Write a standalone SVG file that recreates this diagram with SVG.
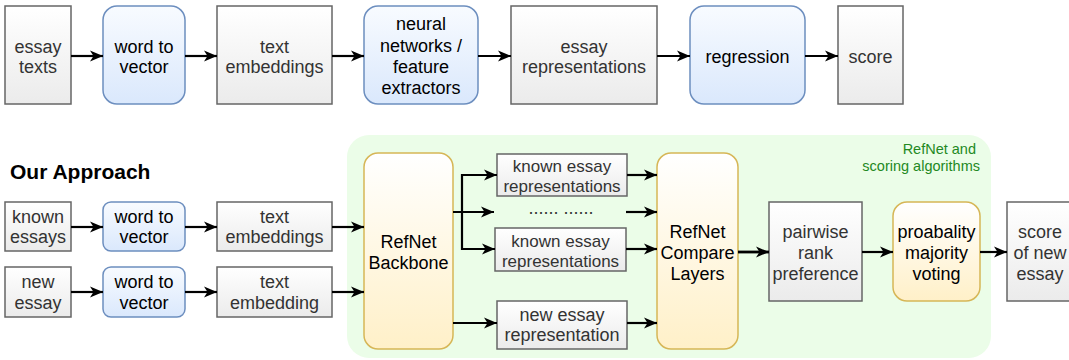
<svg xmlns="http://www.w3.org/2000/svg" width="1069" height="360" viewBox="0 0 1069 360">
<defs>
<linearGradient id="gGray" x1="0" y1="0" x2="0" y2="1"><stop offset="0" stop-color="#ffffff"/><stop offset="1" stop-color="#ebebeb"/></linearGradient>
<linearGradient id="gBlue" x1="0" y1="0" x2="0" y2="1"><stop offset="0" stop-color="#f8fbff"/><stop offset="1" stop-color="#dae8fc"/></linearGradient>
<linearGradient id="gOrange" x1="0" y1="0" x2="0" y2="1"><stop offset="0" stop-color="#ffffff"/><stop offset="1" stop-color="#fff0c8"/></linearGradient>
<marker id="arr" markerUnits="userSpaceOnUse" markerWidth="14" markerHeight="14" viewBox="0 0 14 14" refX="13" refY="7" orient="auto">
<path d="M0,1.5 L13,7 L0,12.5 L3.5,7 Z" fill="#000"/>
</marker>
</defs>
<style>
.gray{fill:url(#gGray);stroke:#666666;stroke-width:1.5}
.blue{fill:url(#gBlue);stroke:#6c8ebf;stroke-width:1.5}
.orange{fill:url(#gOrange);stroke:#d6b656;stroke-width:1.5}
text{font-family:"Liberation Sans",Arial,sans-serif;font-size:18px;text-anchor:middle}
.tg{fill:#333333}
.tb{fill:#000000}
.s16{font-size:17px}
.conn path{fill:none;stroke:#000;stroke-width:2.2;marker-end:url(#arr)}
</style>

<g id="container">
<rect x="347" y="135" width="644" height="223" rx="22" fill="#ebfde8"/>
<text x="976" y="154" style="font-size:14.5px;text-anchor:end;fill:#23891f">RefNet and</text>
<text x="980" y="171" style="font-size:14.5px;text-anchor:end;fill:#23891f">scoring algorithms</text>
</g>

<g id="title"><text x="10" y="179" style="font-size:21px;font-weight:bold;text-anchor:start;fill:#000">Our Approach</text></g>

<!-- Top row -->
<g id="essay-texts"><rect class="gray" x="5" y="6" width="66" height="98"/><text class="tg" x="38" y="53">essay</text><text class="tg" x="38" y="73">texts</text></g>
<g id="w2v-top"><rect class="blue" x="103" y="6" width="82" height="98" rx="14"/><text class="tb" x="144" y="53">word to</text><text class="tb" x="144" y="73">vector</text></g>
<g id="text-emb-top"><rect class="gray" x="217" y="6" width="115" height="98"/><text class="tg" x="274.5" y="53">text</text><text class="tg" x="274.5" y="73">embeddings</text></g>
<g id="neural"><rect class="blue" x="364" y="6" width="114" height="98" rx="14"/><text class="tb" x="421" y="30">neural</text><text class="tb" x="421" y="52">networks /</text><text class="tb" x="421" y="73">feature</text><text class="tb" x="421" y="94">extractors</text></g>
<g id="essay-repr"><rect class="gray" x="511" y="6" width="146" height="98"/><text class="tg" x="584" y="53">essay</text><text class="tg" x="584" y="73">representations</text></g>
<g id="regression"><rect class="blue" x="690" y="6" width="115" height="98" rx="14"/><text class="tb" x="747.5" y="63">regression</text></g>
<g id="score"><rect class="gray" x="838" y="6" width="65" height="98"/><text class="tg" x="870.5" y="63">score</text></g>

<!-- Bottom -->
<g id="known-essays"><rect class="gray" x="5" y="202" width="66" height="49"/><text class="tg" x="38" y="223">known</text><text class="tg" x="38" y="243">essays</text></g>
<g id="w2v-1"><rect class="blue" x="103" y="202" width="82" height="49" rx="8"/><text class="tb" x="144" y="223">word to</text><text class="tb" x="144" y="243">vector</text></g>
<g id="text-emb-1"><rect class="gray" x="217" y="202" width="115" height="49"/><text class="tg" x="274.5" y="223">text</text><text class="tg" x="274.5" y="243">embeddings</text></g>
<g id="new-essay"><rect class="gray" x="5" y="267" width="66" height="50"/><text class="tg" x="38" y="288">new</text><text class="tg" x="38" y="309">essay</text></g>
<g id="w2v-2"><rect class="blue" x="103" y="267" width="82" height="50" rx="8"/><text class="tb" x="144" y="288">word to</text><text class="tb" x="144" y="309">vector</text></g>
<g id="text-emb-2"><rect class="gray" x="217" y="267" width="115" height="50"/><text class="tg" x="274.5" y="288">text</text><text class="tg" x="274.5" y="309">embedding</text></g>

<g id="backbone"><rect class="orange" x="364" y="153" width="89" height="196" rx="14"/><text class="tb" x="408.5" y="248">RefNet</text><text class="tb" x="408.5" y="269">Backbone</text></g>
<g id="known-repr-1"><rect class="gray" x="497" y="154" width="130" height="42"/><text class="tg s16" x="562" y="172">known essay</text><text class="tg s16" x="562" y="192">representations</text></g>
<g id="dots"><text class="tg" x="561" y="214">...... ......</text></g>
<g id="known-repr-2"><rect class="gray" x="495" y="228" width="131" height="43"/><text class="tg s16" x="560.5" y="247">known essay</text><text class="tg s16" x="560.5" y="267">representations</text></g>
<g id="new-repr"><rect class="gray" x="497" y="301" width="130" height="48"/><text class="tg" x="562" y="321">new essay</text><text class="tg" x="562" y="341">representation</text></g>
<g id="compare"><rect class="orange" x="657" y="153" width="81" height="196" rx="14"/><text class="tb" x="697.5" y="238">RefNet</text><text class="tb" x="697.5" y="259">Compare</text><text class="tb" x="697.5" y="280">Layers</text></g>
<g id="pairwise"><rect class="gray" x="769" y="202" width="93" height="99"/><text class="tg" x="815.5" y="238">pairwise</text><text class="tg" x="815.5" y="259">rank</text><text class="tg" x="815.5" y="280">preference</text></g>
<g id="voting"><rect class="orange" x="893" y="202" width="87" height="99" rx="14"/><text class="tb" x="936.5" y="238">proabality</text><text class="tb" x="936.5" y="259">majority</text><text class="tb" x="936.5" y="280">voting</text></g>
<g id="score-new"><rect class="gray" x="1007" y="202" width="66" height="99"/><text class="tg" x="1040" y="238">score</text><text class="tg" x="1040" y="259">of new</text><text class="tg" x="1040" y="280">essay</text></g>

<g id="connectors" class="conn">
<path d="M71,56 H103"/>
<path d="M185,56 H217"/>
<path d="M332,56 H364"/>
<path d="M478,56 H511"/>
<path d="M657,56 H690"/>
<path d="M805,56 H838"/>
<path d="M71,227 H103"/>
<path d="M185,227 H217"/>
<path d="M332,227 H364"/>
<path d="M71,292 H103"/>
<path d="M185,292 H217"/>
<path d="M332,292 H364"/>
<path d="M453,212 H494"/>
<path d="M462,212 V175 H497"/>
<path d="M462,212 V249 H495"/>
<path d="M453,323 H497"/>
<path d="M627,175 H657"/>
<path d="M626,212 H657"/>
<path d="M626,249 H657"/>
<path d="M627,323 H657"/>
<path d="M738,252 H769" style="stroke-width:2.8"/>
<path d="M862,252 H893"/>
<path d="M980,252 H1007"/>
</g>
</svg>
